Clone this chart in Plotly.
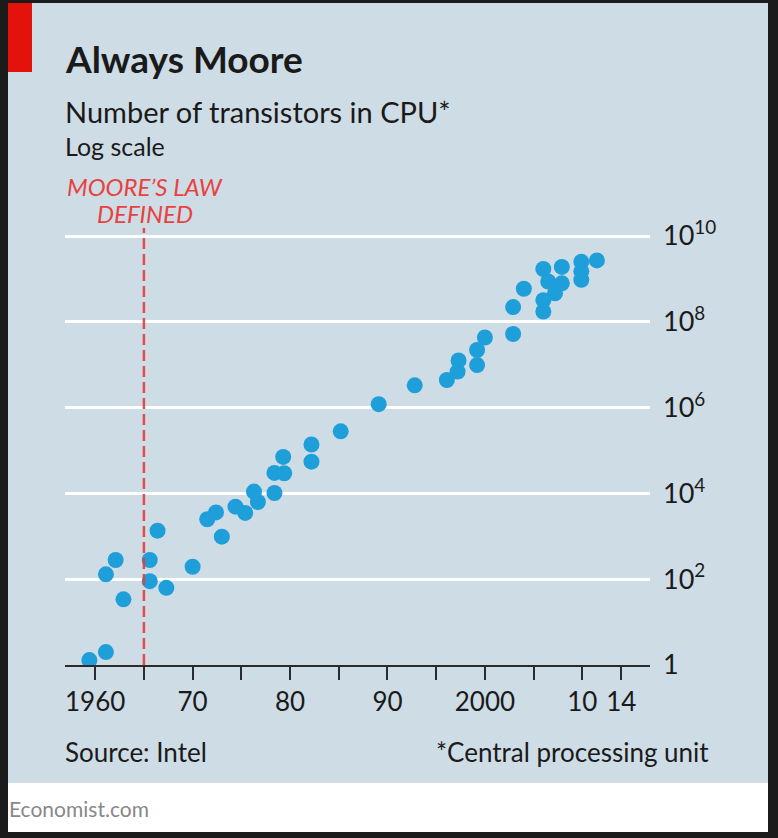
import plotly.graph_objects as go

# ---- data ----
years = [1959.4, 1961.1, 1961.1, 1962.1, 1962.9, 1965.6, 1965.6, 1966.4, 1967.3, 1970.0,
         1971.5, 1972.4, 1973.0, 1974.4, 1975.4, 1976.3, 1976.7, 1978.4, 1978.4, 1979.4,
         1979.3, 1982.2, 1982.2, 1985.2, 1989.1, 1992.8, 1996.1, 1997.2, 1997.3, 1999.2,
         1999.2, 2000.0, 2002.9, 2002.9, 2004.0, 2006.0, 2006.0, 2006.0, 2006.5, 2007.2,
         2007.9, 2007.9, 2009.9, 2009.9, 2009.9, 2011.5]
transistors = [1.3, 2, 130, 280, 34, 280, 90, 1350, 63, 195,
               2500, 3600, 980, 4900, 3500, 11000, 6300, 10200, 30000, 29500,
               71000, 55000, 138000, 280000, 1.2e6, 3.3e6, 4.4e6, 6.9e6, 1.26e7, 9.8e6,
               2.2e7, 4.3e7, 5.2e7, 2.2e8, 5.9e8, 1.74e8, 3.2e8, 1.7e9, 8.7e8, 4.6e8,
               7.9e8, 1.9e9, 2.5e9, 1.5e9, 9.5e8, 2.7e9]
moore_year = 1965

x_tickvals = [1960, 1970, 1980, 1990, 2000, 2010, 2014]
x_ticktext = ["1960", "70", "80", "90", "2000", "10", "14"]
x_minor_ticks = [1965, 1975, 1985, 1995, 2005]
y_tickvals = [1, 1e2, 1e4, 1e6, 1e8, 1e10]
y_ticktext = ["1", "10<sup>2</sup>", "10<sup>4</sup>", "10<sup>6</sup>", "10<sup>8</sup>", "10<sup>10</sup>"]

# ---- layout geometry (pixels) ----
W, H = 778, 838
L, R, T, B = 65, 650, 234, 665
Y_TOP = 10 + 2 / 42.9   # log10 range top, so the 10^10 gridline is drawn just inside


def px(x):
    return (x - L) / (R - L)


def py(y):
    return (B - y) / (B - T)


FONT = "Lato"
BG = "#cedce5"
AX = "#2b2b2b"

fig = go.Figure()
fig.add_trace(go.Scatter(
    x=years, y=transistors, mode="markers",
    marker=dict(size=16, color="#1e9fd9", line=dict(width=0)),
    hoverinfo="skip", showlegend=False,
))

shapes = [
    dict(type="rect", xref="paper", yref="paper", x0=px(0), x1=px(W), y0=py(0), y1=py(H),
         fillcolor="#1b1b1b", line=dict(width=0), layer="below"),
    dict(type="rect", xref="paper", yref="paper", x0=px(8), x1=px(768), y0=py(3), y1=py(783),
         fillcolor=BG, line=dict(width=0), layer="below"),
    dict(type="rect", xref="paper", yref="paper", x0=px(8), x1=px(768), y0=py(783), y1=py(832),
         fillcolor="#ffffff", line=dict(width=0), layer="below"),
    dict(type="rect", xref="paper", yref="paper", x0=px(8), x1=px(32), y0=py(3), y1=py(72),
         fillcolor="#e3120b", line=dict(width=0), layer="below"),
    dict(type="line", xref="x", yref="paper", x0=moore_year, x1=moore_year, y0=0, y1=py(228),
         line=dict(color="#e63d3a", width=2.5, dash="11px,5px"), layer="above", opacity=0.9),
]

annotations = [
    dict(text="<b>Always Moore</b>", x=px(63), y=py(58), xanchor="left", yanchor="middle",
         font=dict(family=FONT, size=37, color="#1a1a1a")),
    dict(text="Number of transistors in CPU*", x=px(63), y=py(111), xanchor="left", yanchor="middle",
         font=dict(family=FONT, size=29, color="#1a1a1a")),
    dict(text="Log scale", x=px(63), y=py(146), xanchor="left", yanchor="middle",
         font=dict(family=FONT, size=25, color="#1a1a1a")),
    dict(text="<i>MOORE’S LAW</i>", x=px(145), y=py(186), xanchor="center", yanchor="middle",
         font=dict(family=FONT, size=24, color="#e8423f")),
    dict(text="<i>DEFINED</i>", x=px(145), y=py(214), xanchor="center", yanchor="middle",
         font=dict(family=FONT, size=24, color="#e8423f")),
    dict(text="Source: Intel", x=px(63), y=py(752), xanchor="left", yanchor="middle",
         font=dict(family=FONT, size=26, color="#1a1a1a")),
    dict(text="*Central processing unit", x=px(711), y=py(752), xanchor="right", yanchor="middle",
         font=dict(family=FONT, size=26, color="#1a1a1a")),
    dict(text="Economist.com", x=px(7), y=py(808), xanchor="left", yanchor="middle",
         font=dict(family=FONT, size=21, color="#888888")),
]
for a in annotations:
    a.update(xref="paper", yref="paper", showarrow=False)

fig.update_layout(
    width=W, height=H,
    margin=dict(l=L, r=W - R, t=T, b=H - B, pad=0),
    paper_bgcolor=BG, plot_bgcolor="rgba(0,0,0,0)",
    shapes=shapes, annotations=annotations, showlegend=False,
    xaxis=dict(range=[1956.9, 2016.95], tickvals=x_tickvals, ticktext=x_ticktext,
               showgrid=False, zeroline=False, showline=True, linecolor=AX, linewidth=2,
               ticks="outside", ticklen=13, tickwidth=2, tickcolor=AX,
               minor=dict(tickvals=x_minor_ticks, ticks="outside", ticklen=13, tickwidth=2,
                          tickcolor=AX, showgrid=False),
               tickfont=dict(family=FONT, size=26, color="#1a1a1a"), fixedrange=True),
    yaxis=dict(type="log", range=[0, Y_TOP], tickvals=y_tickvals, ticktext=y_ticktext,
               side="right", showgrid=True, gridcolor="#ffffff", gridwidth=3,
               zeroline=False, showline=False, ticks="", ticklabelstandoff=12,
               tickfont=dict(family=FONT, size=27, color="#1a1a1a"), fixedrange=True),
)

fig.write_html(
    "out.html",
    config={"displayModeBar": False},
    post_script="document.body.style.margin='0';document.body.style.overflow='hidden';",
)
